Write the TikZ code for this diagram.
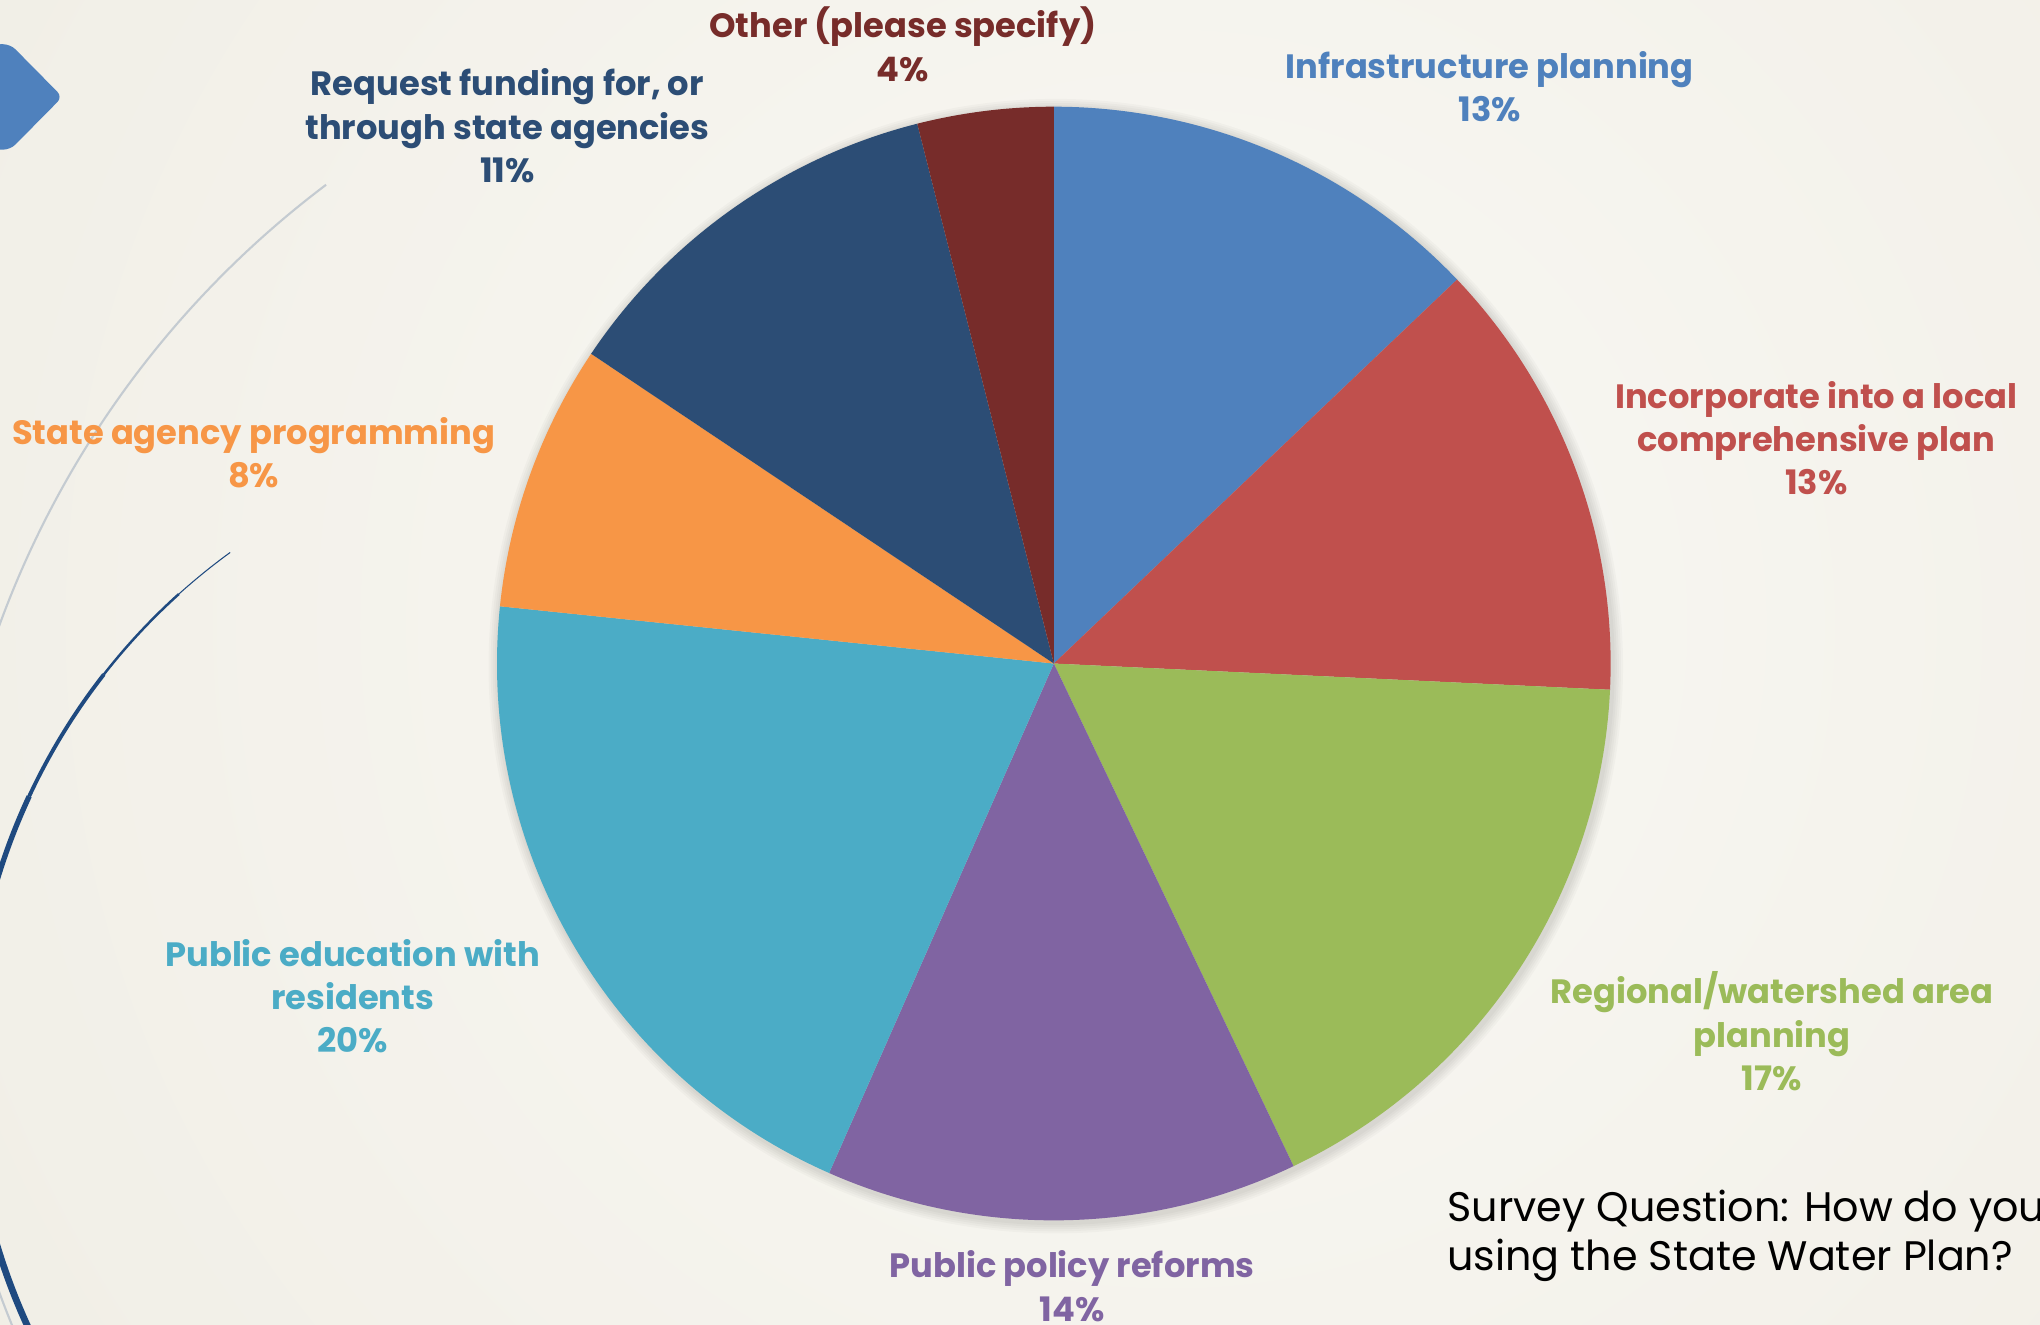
\documentclass[tikz,border=0pt]{standalone}
\usepackage{fontspec}
\setmainfont{Poppins}
\usetikzlibrary{calc}
\definecolor{bgin}{HTML}{F9F8F4}
\definecolor{bgout}{HTML}{ECE9DE}
\definecolor{cblue}{HTML}{4F81BD}
\definecolor{cred}{HTML}{C0504D}
\definecolor{cgreen}{HTML}{9BBB59}
\definecolor{cpurple}{HTML}{8064A2}
\definecolor{cteal}{HTML}{4BACC6}
\definecolor{corange}{HTML}{F79646}
\definecolor{cnavy}{HTML}{2C4D75}
\definecolor{cmaroon}{HTML}{772C2A}
\definecolor{arcgrey}{HTML}{C4CBD1}
\definecolor{arcblue}{HTML}{1F4A80}
\tikzset{
  lab/.style={font=\bfseries\fontsize{9.6}{12.3}\selectfont, align=center, inner sep=0pt},
  survey/.style={font=\fontsize{11.75}{14}\selectfont, align=left, inner sep=0pt, anchor=north west},
}
\begin{document}
\begin{tikzpicture}[x=0.0130102cm, y=-0.0130102cm]
\useasboundingbox (0,0) rectangle (1568,1018);
\clip (0,0) rectangle (1568,1018);
% background
\fill[bgout] (0,0) rectangle (1568,1018);
\shade[inner color=bgin, outer color=bgout] (900,480) circle (1700);
% decorations
\fill[cblue, rounded corners=2pt] (-5,34) -- (8,34) -- (48,74.5) -- (8,115) -- (-5,115) -- cycle;
\draw[arcgrey, line width=0.6pt] (699,737) ++(-127:745) arc[start angle=-127, end angle=-205, radius=745];
\draw[arcblue, line width=0.3pt] (462,817) ++(-126:485) arc[start angle=-126, end angle=-132, radius=485];
\draw[arcblue, line width=0.7pt] (462,817) ++(-132:485) arc[start angle=-132, end angle=-142, radius=485];
\draw[arcblue, line width=1.1pt] (462,817) ++(-142:485) arc[start angle=-142, end angle=-155, radius=485];
\draw[arcblue, line width=1.5pt] (462,817) ++(-155:485) arc[start angle=-155, end angle=-170, radius=485];
\draw[arcblue, line width=1.9pt] (462,817) ++(-170:485) arc[start angle=-170, end angle=-210, radius=485];
% pie shadow
\coordinate (C) at (810,510);
\foreach \i in {1,...,5}{
  \fill[black, opacity=0.025] ($(C)+(1.5,2)$) circle ({428+\i*1.6});
}
% pie slices
\def\R{428}
\fill[cblue]   (C) -- ++(-90:\R)   arc[start angle=-90,   end angle=-43.6, radius=\R] -- cycle;
\fill[cred]    (C) -- ++(-43.6:\R) arc[start angle=-43.6, end angle=2.7,   radius=\R] -- cycle;
\fill[cgreen]  (C) -- ++(2.7:\R)   arc[start angle=2.7,   end angle=64.5,  radius=\R] -- cycle;
\fill[cpurple] (C) -- ++(64.5:\R)  arc[start angle=64.5,  end angle=113.8, radius=\R] -- cycle;
\fill[cteal]   (C) -- ++(113.8:\R) arc[start angle=113.8, end angle=185.9, radius=\R] -- cycle;
\fill[corange] (C) -- ++(185.9:\R) arc[start angle=185.9, end angle=213.8, radius=\R] -- cycle;
\fill[cnavy]   (C) -- ++(213.8:\R) arc[start angle=213.8, end angle=255.8, radius=\R] -- cycle;
\fill[cmaroon] (C) -- ++(255.8:\R) arc[start angle=255.8, end angle=270,   radius=\R] -- cycle;
% labels
\node[lab, text=cmaroon] (lother) at (694,34) {Other (please specify)\\4\%};
\node[lab, text=cblue] (linfra) at (1145,66.5) {Infrastructure planning\\13\%};
\node[lab, text=cnavy] (lreq) at (390,96.7) {Request funding for, or\\through state agencies\\11\%};
\node[lab, text=corange] (lstate) at (195,348) {State agency programming\\8\%};
\node[lab, text=cred] (linc) at (1396,337) {Incorporate into a local\\comprehensive plan\\13\%};
\node[lab, text=cgreen] (lreg) at (1362,792.7) {Regional/watershed area\\planning\\17\%};
\node[lab, text=cteal] (ledu) at (271,765.7) {Public education with\\residents\\20\%};
\node[lab, text=cpurple] (lpol) at (824,988.5) {Public policy reforms\\14\%};
\node[survey, text=black] (q) at (1112,914) {Survey Question: How do you\\using the State Water Plan?};
\end{tikzpicture}
\end{document}
